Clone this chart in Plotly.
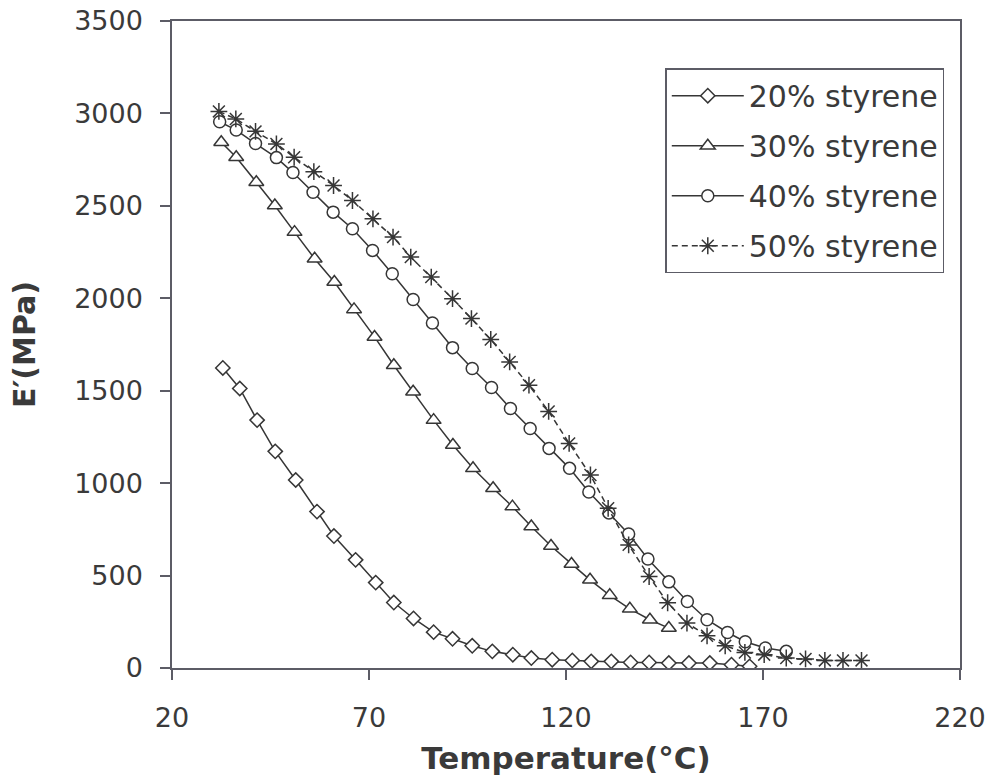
import plotly.graph_objects as go

# Storage modulus E' (MPa) versus temperature (°C) for four styrene contents
T20 = [32.9, 37.2, 41.6, 46.2, 51.4, 56.8, 61.1, 66.6, 71.7, 76.3, 81.3, 86.4, 91.2, 96.2,
       101.3, 106.5, 111.2, 116.5, 121.6, 126.4, 131.5, 136.4, 141.1, 146.1, 151.2, 156.5,
       162.0, 166.6]
E20 = [1623, 1512, 1341, 1172, 1017, 846, 714, 585, 462, 354, 268, 194, 158, 120,
       90, 72, 54, 45, 41, 36, 36, 30, 30, 27, 27, 27,
       18, 9]

T30 = [32.5, 36.3, 41.4, 46.1, 51.1, 56.2, 61.2, 66.2, 71.4, 76.3, 81.2, 86.4, 91.3, 96.4,
       101.5, 106.4, 111.2, 116.2, 121.4, 126.1, 131.1, 136.2, 141.3, 146.1]
E30 = [2844, 2763, 2628, 2502, 2358, 2214, 2088, 1940, 1791, 1638, 1494, 1341, 1206, 1080,
       972, 873, 765, 660, 563, 477, 393, 320, 261, 216]

T40 = [32.1, 36.3, 41.2, 46.5, 50.7, 55.8, 60.9, 65.8, 70.9, 75.9, 81.2, 86.1, 91.2, 96.2,
       101.1, 105.9, 110.9, 115.7, 120.9, 125.8, 130.9, 135.9, 140.8, 146.1, 150.8, 155.8,
       161.0, 165.5, 170.6, 175.9]
E40 = [2955, 2910, 2837, 2761, 2680, 2574, 2466, 2376, 2259, 2133, 1993, 1866, 1733, 1620,
       1517, 1404, 1296, 1188, 1080, 952, 839, 725, 590, 466, 360, 261,
       192, 142, 108, 90]

T50 = [31.9, 36.2, 41.2, 46.5, 51.0, 56.0, 61.0, 65.8, 71.0, 76.1, 80.6, 85.8, 91.2, 96.0,
       100.9, 105.7, 110.6, 115.6, 120.8, 126.2, 130.7, 135.9, 141.1, 145.8, 150.7, 155.8,
       160.4, 165.4, 170.3, 175.9, 180.8, 185.7, 190.3, 195.0]
E50 = [3011, 2970, 2903, 2835, 2763, 2685, 2610, 2529, 2430, 2331, 2223, 2115, 1998, 1890,
       1777, 1656, 1530, 1388, 1215, 1044, 864, 666, 495, 353, 243, 174,
       120, 84, 72, 54, 49, 41, 41, 41]

series_names = ["20% styrene", "30% styrene", "40% styrene", "50% styrene"]
x_ticks = [20, 70, 120, 170, 220]
y_ticks = [0, 500, 1000, 1500, 2000, 2500, 3000, 3500]

INK = "#363636"
FRAME = "#5c5c66"
TEXT = "#3a3a3a"
FONT = "DejaVu Sans"

fig = go.Figure()

# (x, y, symbol, size, fill, dash)
styles = [
    (T20, E20, "diamond", 11, "white", "solid"),
    (T30, E30, "triangle-up", 13, "white", "solid"),
    (T40, E40, "circle", 12, "white", "solid"),
    (T50, E50, "asterisk-open", 14, INK, "6px,4px"),
]

for i, (name, (tx, ey, sym, size, fill, dash)) in enumerate(zip(series_names, styles)):
    fig.add_trace(go.Scatter(
        x=tx, y=ey, name=name, mode="lines+markers",
        legendgroup=f"g{i}",
        line=dict(color=INK, width=1.5, dash=dash),
        marker=dict(symbol=sym, size=size, color=fill,
                    line=dict(color=INK, width=1.5)),
    ))

fig.update_layout(
    width=990, height=781,
    margin=dict(l=172, r=30, t=21, b=113, autoexpand=False),
    paper_bgcolor="white", plot_bgcolor="white",
    font=dict(family=FONT, color=TEXT, size=27),
    showlegend=True,
    legend=dict(
        x=0.626, y=0.927, xanchor="left", yanchor="top",
        bordercolor=FRAME, borderwidth=1.5, bgcolor="white",
        font=dict(family=FONT, size=30, color=TEXT),
        traceorder="grouped", tracegroupgap=8, itemwidth=72,
    ),
)

fig.update_xaxes(
    range=[20, 220], tickvals=x_ticks, ticktext=[str(v) for v in x_ticks],
    showgrid=False, zeroline=False, automargin=False,
    showline=True, linecolor=FRAME, linewidth=1.5, mirror=True,
    ticks="outside", ticklen=10, tickwidth=1.5, tickcolor=FRAME,
    tickfont=dict(size=27, family=FONT, color=TEXT),
    ticklabelstandoff=15,
    title=dict(text="Temperature(°C)", standoff=15,
               font=dict(family=FONT, size=31, color=TEXT, weight="bold")),
)
fig.update_yaxes(
    range=[0, 3500], tickvals=y_ticks, ticktext=[str(v) for v in y_ticks],
    showgrid=False, zeroline=False, automargin=False,
    showline=True, linecolor=FRAME, linewidth=1.5, mirror=True,
    ticks="outside", ticklen=10, tickwidth=1.5, tickcolor=FRAME,
    tickfont=dict(size=27, family=FONT, color=TEXT),
    ticklabelstandoff=12,
    title=dict(text="E′(MPa)", standoff=30,
               font=dict(family=FONT, size=30, color=TEXT, weight="bold")),
)

fig.write_html("out.html")
